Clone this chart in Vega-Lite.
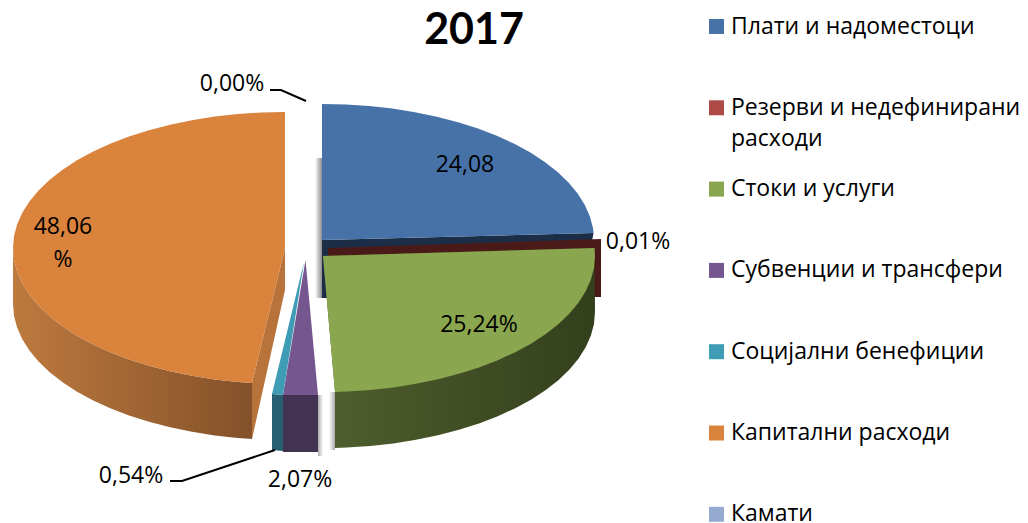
{"$schema":"https://vega.github.io/schema/vega-lite/v6.json","width":1028,"height":523,"autosize":"none","padding":0,"background":"white",
"title":{"text":"2017","font":"Lato","fontSize":43,"fontWeight":"bold","color":"#000000","anchor":"middle","dx":-40,"dy":87,"offset":0,"baseline":"alphabetic"},
"config":{"view":{"stroke":null},"font":"Open Sans"},
"datasets":{
"slices":[{"name":"Плати и надоместоци","value":24.08},{"name":"\u00a0Резерви и недефинирани","value":0.01},{"name":"Стоки и услуги","value":25.24},{"name":"Субвенции и трансфери","value":2.07},{"name":"Социјални бенефиции","value":0.54},{"name":"Капитални расходи","value":48.06},{"name":"Камати","value":0.0}],
"labels":[{"t":"24,08","x":465,"y":165},{"t":"0,01%","x":638,"y":242},{"t":"25,24%","x":479,"y":325},{"t":"48,06","x":63,"y":227},{"t":"%","x":63,"y":260},{"t":"2,07%","x":300,"y":480},{"t":"0,54%","x":131,"y":476},{"t":"0,00%","x":232,"y":84}],
"leaders":[{"p":"a","i":0,"x":270,"y":90},{"p":"a","i":1,"x":281,"y":90},{"p":"a","i":2,"x":306,"y":101},{"p":"b","i":0,"x":170,"y":481},{"p":"b","i":1,"x":182,"y":481},{"p":"b","i":2,"x":275,"y":450}],
"outlines":[
{"p":"sh","i":0,"x":315,"y":158},{"p":"sh","i":1,"x":322,"y":158},{"p":"sh","i":2,"x":322,"y":298},{"p":"sh","i":3,"x":315,"y":298},
{"p":"sp","i":0,"x":318,"y":395},{"p":"sp","i":1,"x":323,"y":395},{"p":"sp","i":2,"x":323,"y":456},{"p":"sp","i":3,"x":318,"y":456},
{"p":"sg","i":0,"x":329,"y":392},{"p":"sg","i":1,"x":335,"y":392},{"p":"sg","i":2,"x":335,"y":450},{"p":"sg","i":3,"x":329,"y":450},
{"p":"bw","i":0,"x":322,"y":240},{"p":"bw","i":1,"x":593.5,"y":233},{"p":"bw","i":2,"x":592,"y":241},{"p":"bw","i":3,"x":328,"y":249},{"p":"bw","i":4,"x":328,"y":298},{"p":"bw","i":5,"x":322,"y":298},
{"p":"rw","i":0,"x":328,"y":248},{"p":"rw","i":1,"x":601,"y":239},{"p":"rw","i":2,"x":601,"y":297},{"p":"rw","i":3,"x":590,"y":297},{"p":"rw","i":4,"x":590,"y":256},{"p":"rw","i":5,"x":328,"y":256},
{"p":"bt","i":0,"x":322,"y":240},{"p":"bt","i":1,"x":322,"y":104},{"p":"bt","i":2,"x":345.7,"y":104.5},{"p":"bt","i":3,"x":369.2,"y":106.1},{"p":"bt","i":4,"x":392.4,"y":108.6},{"p":"bt","i":5,"x":415,"y":112.2},{"p":"bt","i":6,"x":436.9,"y":116.7},{"p":"bt","i":7,"x":458,"y":122.2},{"p":"bt","i":8,"x":478,"y":128.6},{"p":"bt","i":9,"x":496.8,"y":135.8},{"p":"bt","i":10,"x":514.3,"y":143.8},{"p":"bt","i":11,"x":530.4,"y":152.6},{"p":"bt","i":12,"x":544.8,"y":162},{"p":"bt","i":13,"x":557.6,"y":172},{"p":"bt","i":14,"x":568.5,"y":182.5},{"p":"bt","i":15,"x":577.6,"y":193.5},{"p":"bt","i":16,"x":584.7,"y":204.8},{"p":"bt","i":17,"x":589.9,"y":216.4},{"p":"bt","i":18,"x":593,"y":228.1},{"p":"bt","i":19,"x":593.5,"y":233},
{"p":"gw","i":0,"x":594.5,"y":248},{"p":"gw","i":1,"x":595,"y":312},{"p":"gw","i":2,"x":594,"y":323.9},{"p":"gw","i":3,"x":590.9,"y":335.6},{"p":"gw","i":4,"x":585.7,"y":347.2},{"p":"gw","i":5,"x":578.6,"y":358.5},{"p":"gw","i":6,"x":569.5,"y":369.5},{"p":"gw","i":7,"x":558.6,"y":380},{"p":"gw","i":8,"x":545.8,"y":390},{"p":"gw","i":9,"x":531.4,"y":399.4},{"p":"gw","i":10,"x":515.3,"y":408.2},{"p":"gw","i":11,"x":497.8,"y":416.2},{"p":"gw","i":12,"x":479,"y":423.4},{"p":"gw","i":13,"x":459,"y":429.8},{"p":"gw","i":14,"x":437.9,"y":435.3},{"p":"gw","i":15,"x":416,"y":439.8},{"p":"gw","i":16,"x":393.4,"y":443.4},{"p":"gw","i":17,"x":370.2,"y":445.9},{"p":"gw","i":18,"x":346.7,"y":447.5},{"p":"gw","i":19,"x":335,"y":448},{"p":"gw","i":20,"x":335,"y":392},{"p":"gw","i":21,"x":323,"y":256},
{"p":"gt","i":0,"x":323,"y":256},{"p":"gt","i":1,"x":594.5,"y":248},{"p":"gt","i":2,"x":595,"y":256},{"p":"gt","i":3,"x":594,"y":267.9},{"p":"gt","i":4,"x":590.9,"y":279.6},{"p":"gt","i":5,"x":585.7,"y":291.2},{"p":"gt","i":6,"x":578.6,"y":302.5},{"p":"gt","i":7,"x":569.5,"y":313.5},{"p":"gt","i":8,"x":558.6,"y":324},{"p":"gt","i":9,"x":545.8,"y":334},{"p":"gt","i":10,"x":531.4,"y":343.4},{"p":"gt","i":11,"x":515.3,"y":352.2},{"p":"gt","i":12,"x":497.8,"y":360.2},{"p":"gt","i":13,"x":479,"y":367.4},{"p":"gt","i":14,"x":459,"y":373.8},{"p":"gt","i":15,"x":437.9,"y":379.3},{"p":"gt","i":16,"x":416,"y":383.8},{"p":"gt","i":17,"x":393.4,"y":387.4},{"p":"gt","i":18,"x":370.2,"y":389.9},{"p":"gt","i":19,"x":346.7,"y":391.5},{"p":"gt","i":20,"x":335,"y":392},
{"p":"pw","i":0,"x":283,"y":395},{"p":"pw","i":1,"x":318,"y":395},{"p":"pw","i":2,"x":318,"y":452},{"p":"pw","i":3,"x":283,"y":452},
{"p":"pt","i":0,"x":305.5,"y":260},{"p":"pt","i":1,"x":318,"y":395},{"p":"pt","i":2,"x":283,"y":395},
{"p":"tw","i":0,"x":272,"y":394},{"p":"tw","i":1,"x":283,"y":395},{"p":"tw","i":2,"x":283,"y":451},{"p":"tw","i":3,"x":272,"y":450},
{"p":"tt","i":0,"x":304,"y":262},{"p":"tt","i":1,"x":283,"y":395},{"p":"tt","i":2,"x":272,"y":394},
{"p":"oc","i":0,"x":285,"y":248},{"p":"oc","i":1,"x":252,"y":383},{"p":"oc","i":2,"x":252,"y":439},{"p":"oc","i":3,"x":285,"y":290},
{"p":"ow","i":0,"x":13,"y":248},{"p":"ow","i":1,"x":14,"y":259.9},{"p":"ow","i":2,"x":17.1,"y":271.6},{"p":"ow","i":3,"x":22.3,"y":283.2},{"p":"ow","i":4,"x":29.4,"y":294.5},{"p":"ow","i":5,"x":38.5,"y":305.5},{"p":"ow","i":6,"x":49.4,"y":316},{"p":"ow","i":7,"x":62.2,"y":326},{"p":"ow","i":8,"x":76.6,"y":335.4},{"p":"ow","i":9,"x":92.7,"y":344.2},{"p":"ow","i":10,"x":110.2,"y":352.2},{"p":"ow","i":11,"x":129,"y":359.4},{"p":"ow","i":12,"x":149,"y":365.8},{"p":"ow","i":13,"x":170.1,"y":371.3},{"p":"ow","i":14,"x":192,"y":375.8},{"p":"ow","i":15,"x":214.6,"y":379.4},{"p":"ow","i":16,"x":237.8,"y":381.9},{"p":"ow","i":17,"x":252,"y":383},
{"p":"ow","i":18,"x":252,"y":439},{"p":"ow","i":19,"x":237.8,"y":437.9},{"p":"ow","i":20,"x":214.6,"y":435.4},{"p":"ow","i":21,"x":192,"y":431.8},{"p":"ow","i":22,"x":170.1,"y":427.3},{"p":"ow","i":23,"x":149,"y":421.8},{"p":"ow","i":24,"x":129,"y":415.4},{"p":"ow","i":25,"x":110.2,"y":408.2},{"p":"ow","i":26,"x":92.7,"y":400.2},{"p":"ow","i":27,"x":76.6,"y":391.4},{"p":"ow","i":28,"x":62.2,"y":382},{"p":"ow","i":29,"x":49.4,"y":372},{"p":"ow","i":30,"x":38.5,"y":361.5},{"p":"ow","i":31,"x":29.4,"y":350.5},{"p":"ow","i":32,"x":22.3,"y":339.2},{"p":"ow","i":33,"x":17.1,"y":327.6},{"p":"ow","i":34,"x":14,"y":315.9},{"p":"ow","i":35,"x":13,"y":304},
{"p":"ot","i":0,"x":285,"y":248},{"p":"ot","i":1,"x":285,"y":112},{"p":"ot","i":2,"x":261.3,"y":112.5},{"p":"ot","i":3,"x":237.8,"y":114.1},{"p":"ot","i":4,"x":214.6,"y":116.6},{"p":"ot","i":5,"x":192,"y":120.2},{"p":"ot","i":6,"x":170.1,"y":124.7},{"p":"ot","i":7,"x":149,"y":130.2},{"p":"ot","i":8,"x":129,"y":136.6},{"p":"ot","i":9,"x":110.2,"y":143.8},{"p":"ot","i":10,"x":92.7,"y":151.8},{"p":"ot","i":11,"x":76.6,"y":160.6},{"p":"ot","i":12,"x":62.2,"y":170},{"p":"ot","i":13,"x":49.4,"y":180},{"p":"ot","i":14,"x":38.5,"y":190.5},{"p":"ot","i":15,"x":29.4,"y":201.5},{"p":"ot","i":16,"x":22.3,"y":212.8},{"p":"ot","i":17,"x":17.1,"y":224.4},{"p":"ot","i":18,"x":14,"y":236.1},{"p":"ot","i":19,"x":13,"y":248},{"p":"ot","i":20,"x":14,"y":259.9},{"p":"ot","i":21,"x":17.1,"y":271.6},{"p":"ot","i":22,"x":22.3,"y":283.2},{"p":"ot","i":23,"x":29.4,"y":294.5},{"p":"ot","i":24,"x":38.5,"y":305.5},{"p":"ot","i":25,"x":49.4,"y":316},{"p":"ot","i":26,"x":62.2,"y":326},{"p":"ot","i":27,"x":76.6,"y":335.4},{"p":"ot","i":28,"x":92.7,"y":344.2},{"p":"ot","i":29,"x":110.2,"y":352.2},{"p":"ot","i":30,"x":129,"y":359.4},{"p":"ot","i":31,"x":149,"y":365.8},{"p":"ot","i":32,"x":170.1,"y":371.3},{"p":"ot","i":33,"x":192,"y":375.8},{"p":"ot","i":34,"x":214.6,"y":379.4},{"p":"ot","i":35,"x":237.8,"y":381.9},{"p":"ot","i":36,"x":252,"y":383}
]},
"encoding":{
"x":{"field":"x","type":"quantitative","scale":{"domain":[0,1028]},"axis":null},
"y":{"field":"y","type":"quantitative","scale":{"domain":[523,0]},"axis":null},
"order":{"field":"i","type":"ordinal"}
},
"layer":[
{"data":{"name":"outlines"},"transform":[{"filter":"datum.p==='sh'"}],"mark":{"type":"line","strokeWidth":0,"fill":{"gradient":"linear","x1":0,"x2":1,"y1":0,"y2":0,"stops":[{"offset":0,"color":"#ffffff"},{"offset":1,"color":"#8c8c8c"}]}}},
{"data":{"name":"outlines"},"transform":[{"filter":"datum.p==='sp'"}],"mark":{"type":"line","strokeWidth":0,"fill":{"gradient":"linear","x1":0,"x2":1,"y1":0,"y2":0,"stops":[{"offset":0,"color":"#aaaaaa"},{"offset":1,"color":"#ffffff"}]}}},
{"data":{"name":"outlines"},"transform":[{"filter":"datum.p==='sg'"}],"mark":{"type":"line","strokeWidth":0,"fill":{"gradient":"linear","x1":0,"x2":1,"y1":0,"y2":0,"stops":[{"offset":0,"color":"#ffffff"},{"offset":1,"color":"#aaaaaa"}]}}},
{"data":{"name":"outlines"},"transform":[{"filter":"datum.p==='bw'"}],"mark":{"type":"line","strokeWidth":0,"fill":"#1c2e47"}},
{"data":{"name":"outlines"},"transform":[{"filter":"datum.p==='rw'"}],"mark":{"type":"line","strokeWidth":0,"fill":"#4a1a18"}},
{"data":{"name":"outlines"},"transform":[{"filter":"datum.p==='bt'"}],"mark":{"type":"line","strokeWidth":0,"fill":"#4672a8"}},
{"data":{"name":"outlines"},"transform":[{"filter":"datum.p==='gw'"}],"mark":{"type":"line","strokeWidth":0,"fill":{"gradient":"linear","x1":0,"x2":1,"y1":0,"y2":0,"stops":[{"offset":0,"color":"#4f5f2e"},{"offset":1,"color":"#343f1c"}]}}},
{"data":{"name":"outlines"},"transform":[{"filter":"datum.p==='gt'"}],"mark":{"type":"line","strokeWidth":0,"fill":"#8aa64e"}},
{"data":{"name":"outlines"},"transform":[{"filter":"datum.p==='pw'"}],"mark":{"type":"line","strokeWidth":0,"fill":"#433352"}},
{"data":{"name":"outlines"},"transform":[{"filter":"datum.p==='pt'"}],"mark":{"type":"line","strokeWidth":0,"fill":"#76568f"}},
{"data":{"name":"outlines"},"transform":[{"filter":"datum.p==='tw'"}],"mark":{"type":"line","strokeWidth":0,"fill":"#265f6f"}},
{"data":{"name":"outlines"},"transform":[{"filter":"datum.p==='tt'"}],"mark":{"type":"line","strokeWidth":0,"fill":"#3f9cb5"}},
{"data":{"name":"outlines"},"transform":[{"filter":"datum.p==='oc'"}],"mark":{"type":"line","strokeWidth":0,"fill":"#b8733a"}},
{"data":{"name":"outlines"},"transform":[{"filter":"datum.p==='ow'"}],"mark":{"type":"line","strokeWidth":0,"fill":{"gradient":"linear","x1":0,"x2":1,"y1":0,"y2":0,"stops":[{"offset":0,"color":"#bd7a3e"},{"offset":1,"color":"#84512a"}]}}},
{"data":{"name":"outlines"},"transform":[{"filter":"datum.p==='ot'"}],"mark":{"type":"line","strokeWidth":0,"fill":"#d9833d"}},
{"data":{"name":"leaders"},"mark":{"type":"line","stroke":"#000000","strokeWidth":2},"encoding":{"detail":{"field":"p"}}},
{"data":{"name":"labels"},"mark":{"type":"text","font":"Open Sans","fontSize":23,"color":"#000000","align":"center","baseline":"middle"},"encoding":{"text":{"field":"t"},"order":null}},
{"data":{"values":[{"t":"расходи","x":731,"y":139}]},"mark":{"type":"text","font":"Open Sans","fontSize":23,"color":"#000000","align":"left","baseline":"middle"},"encoding":{"text":{"field":"t"},"order":null}},
{"data":{"name":"slices"},"mark":{"type":"square","size":0,"filled":true,"opacity":1},"encoding":{"x":{"datum":0},"y":{"datum":0},"order":null,
"fill":{"field":"name","type":"nominal","sort":null,"scale":{"domain":["Плати и надоместоци","\u00a0Резерви и недефинирани","Стоки и услуги","Субвенции и трансфери","Социјални бенефиции","Капитални расходи","Камати"],"range":["#4672a8","#ad4a48","#8aa64e","#76568f","#3f9cb5","#d9833d","#95aacf"]},
"legend":{"title":null,"orient":"none","legendX":705,"legendY":15,"padding":0,"symbolType":"square","symbolSize":225,"symbolOpacity":1,"symbolStrokeWidth":0,"labelFont":"Open Sans","labelFontSize":23,"labelColor":"#000000","labelOffset":3,"labelLimit":320,"rowPadding":57.3}}}}
]}
